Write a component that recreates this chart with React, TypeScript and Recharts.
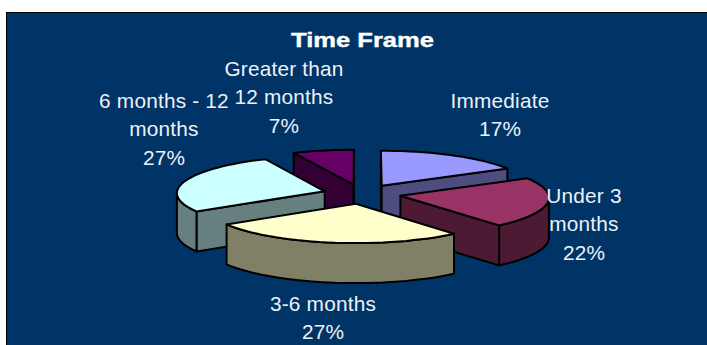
import React from 'react'
import { PieChart, Pie } from 'recharts'

const categories = ['Immediate', 'Under 3 months', '3-6 months', '6 months - 12 months', 'Greater than 12 months']
const shares = [17, 22, 27, 27, 7]
const topColors = ['#9999FF', '#993366', '#FFFFCC', '#CCFFFF', '#660066']
const wallColors = ['#4D4D80', '#4D1A33', '#808066', '#668080', '#330033']
const labelLines = [['Immediate'], ['Under 3', 'months'], ['3-6 months'], ['6 months - 12', 'months'], ['Greater than', '12 months']]

// label centre x and first baseline y, per category
const labelSpots = [
  [500, 108],
  [584, 203],
  [323, 311],
  [164, 108],
  [284, 76],
]

// back slices are painted first so the front ones overlap them
const paintOrder = [4, 0, 3, 1, 2]

const RADIUS = 148
const TILT = 0.25
const PERSPECTIVE = 0.04
const EXPLODE = 39
const DEPTH = 40
const RAD = Math.PI / 180

const tableData = categories.map((name, i) => ({ name, value: shares[i], fill: topColors[i] }))

type Pt = [number, number]

const toPath = (pts: Pt[]) => 'M' + pts.map(p => `${p[0].toFixed(1)},${p[1].toFixed(1)}`).join('L') + 'Z'

// tilted disk with a touch of perspective, front edge closer to the viewer
const project = (cx: number, cy: number, x: number, z: number): Pt => {
  const s = 1 / (1 + (PERSPECTIVE * z) / RADIUS)
  return [cx + x * s, cy - z * TILT * s]
}

const Slice3D = (props: any, layer: number) => {
  const idx = categories.indexOf(props.name)
  if (idx !== layer) return <g />
  const { cx, cy, startAngle, endAngle, midAngle, outerRadius, fill } = props
  const ox = EXPLODE * Math.cos(midAngle * RAD)
  const oz = EXPLODE * Math.sin(midAngle * RAD)
  const apex = project(cx, cy, ox, oz)
  const rim: Pt[] = []
  const steps = Math.ceil(Math.abs(endAngle - startAngle) / 3)
  for (let i = 0; i <= steps; i++) {
    const a = (startAngle + ((endAngle - startAngle) * i) / steps) * RAD
    rim.push(project(cx, cy, ox + outerRadius * Math.cos(a), oz + outerRadius * Math.sin(a)))
  }
  const outline: Pt[] = [apex, ...rim]
  const wall = wallColors[idx]
  const faces: Pt[][] = []

  // faces running right to left on screen look towards the viewer
  const closed = [...outline, apex]
  let run: Pt[] = []
  closed.forEach((p, i) => {
    if (i === 0) return
    const prev = closed[i - 1]
    const radial = i === 1 || i === closed.length - 1
    if (p[0] < prev[0] - 0.01) {
      if (radial) {
        if (run.length) faces.push(run)
        run = []
        faces.push([prev, p])
      } else {
        if (!run.length) run.push(prev)
        run.push(p)
      }
    } else if (run.length) {
      faces.push(run)
      run = []
    }
  })
  if (run.length) faces.push(run)

  return (
    <g stroke="#000" strokeWidth={2} strokeLinejoin="round">
      {faces.map((f, i) => {
        const lower = [...f].reverse().map(p => [p[0], p[1] + DEPTH] as Pt)
        return <path key={i} d={toPath([...f, ...lower])} fill={wall} />
      })}
      <path d={toPath(outline)} fill={fill} />
    </g>
  )
}

const SliceLabel = (props: any) => {
  const idx = props.index
  const [x, y] = labelSpots[idx]
  const lines = [...labelLines[idx], `${shares[idx]}%`]
  return (
    <text
      x={x}
      y={y}
      textAnchor="middle"
      fill="#EEF2F6"
      stroke="none"
      fontSize={20.8}
      letterSpacing={0.2}
      fontFamily="'Liberation Sans', Arial, sans-serif"
    >
      {lines.map((t, i) => (
        <tspan key={i} x={x} y={y + i * 28.3}>
          {t}
        </tspan>
      ))}
    </text>
  )
}

export default function App() {
  return (
    <div style={{ position: 'absolute', left: 0, top: 0, width: 707, height: 345, background: '#fff', overflow: 'hidden' }}>
      <div
        style={{
          position: 'absolute',
          left: 6,
          top: 12,
          width: 710,
          height: 340,
          background: '#003366',
          border: '1px solid #000',
        }}
      />
      <div style={{ position: 'absolute', left: 0, top: 0 }}>
        <PieChart width={707} height={345} margin={{ top: 0, right: 0, bottom: 0, left: 0 }}>
          <text
            x={362.5}
            y={47}
            textAnchor="middle"
            fill="#fff"
            stroke="#fff"
            strokeWidth={0.4}
            fontSize={21}
            fontWeight="bold"
            fontFamily="'Liberation Sans', Arial, sans-serif"
            textLength={143}
            lengthAdjust="spacingAndGlyphs"
          >
            Time Frame
          </text>
          {paintOrder.map((layer, i) => (
            <Pie
              key={layer}
              data={tableData}
              dataKey="value"
              nameKey="name"
              cx={362}
              cy={194}
              innerRadius={0}
              outerRadius={RADIUS}
              startAngle={90}
              endAngle={-270}
              paddingAngle={0}
              isAnimationActive={false}
              labelLine={false}
              label={i === paintOrder.length - 1 ? SliceLabel : false}
              shape={(p: any) => Slice3D(p, layer)}
            />
          ))}
        </PieChart>
      </div>
    </div>
  )
}
